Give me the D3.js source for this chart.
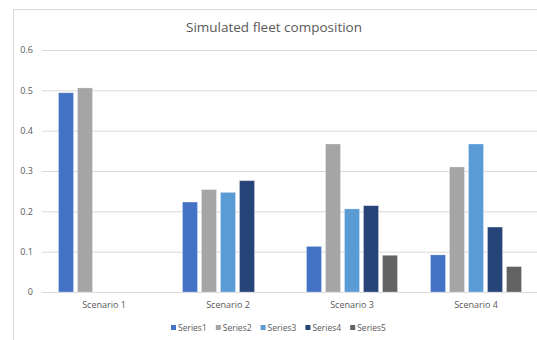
<!DOCTYPE html>
<html>
<head>
<meta charset="utf-8">
<script src="https://cdn.jsdelivr.net/npm/d3@7"></script>
<style>
  html, body { margin: 0; padding: 0; background: #fff; }
  svg { display: block; }
  text { font-family: "Open Sans", "Liberation Sans", sans-serif; fill: #595959; }
</style>
</head>
<body>
<svg id="chart" width="537" height="340"></svg>
<script>
// Fleet share per scenario, one array per series
const categories = ["Scenario 1", "Scenario 2", "Scenario 3", "Scenario 4"];
const seriesNames = ["Series1", "Series2", "Series3", "Series4", "Series5"];
const series1 = [0.494, 0.223, 0.113, 0.092];
const series2 = [0.506, 0.254, 0.367, 0.310];
const series3 = [null, 0.247, 0.206, 0.367];
const series4 = [null, 0.276, 0.214, 0.161];
const series5 = [null, null, 0.091, 0.063];
const yTicks = [0, 0.1, 0.2, 0.3, 0.4, 0.5, 0.6];
const colors = ["#4472C4", "#A5A5A5", "#5B9BD5", "#264478", "#636363"];

const seriesValues = [series1, series2, series3, series4, series5];

const svg = d3.select("#chart");

// chart frame (right and bottom edges run off the canvas)
svg.append("path")
  .attr("d", "M13.5,340 L13.5,9.5 L537,9.5")
  .attr("fill", "none")
  .attr("stroke", "#D9D9D9")
  .attr("stroke-width", 1);

svg.append("text")
  .attr("x", 274)
  .attr("y", 32)
  .attr("text-anchor", "middle")
  .style("font-size", "13.5px")
  .text("Simulated fleet composition");

const plotLeft = 42, plotRight = 538;
const y = d3.scaleLinear().domain([0, 0.6]).range([292, 50]);

const x0 = d3.scaleBand().domain(categories)
  .range([plotLeft, plotRight])
  .paddingInner(0.266).paddingOuter(0.133);
const x1 = d3.scaleBand().domain(seriesNames)
  .range([0, x0.bandwidth()])
  .paddingInner(0.2105).paddingOuter(0);

// gridlines
const yAxis = d3.axisLeft(y).tickValues(yTicks)
  .tickSize(-(plotRight - plotLeft))
  .tickPadding(9)
  .tickFormat(d => d === 0 ? "0" : d3.format(".1f")(d));

const gy = svg.append("g")
  .attr("transform", `translate(${plotLeft},0)`)
  .call(yAxis);
gy.select(".domain").remove();
gy.selectAll(".tick line").attr("stroke", "#D9D9D9").attr("stroke-width", 1);
gy.selectAll(".tick text").style("font-size", "9px").attr("fill", "#595959");

// bars
const groups = svg.append("g").selectAll("g")
  .data(categories)
  .join("g")
  .attr("transform", d => `translate(${x0(d)},0)`);

groups.selectAll("rect")
  .data((c, ci) => seriesNames.map((s, si) => ({ s, si, v: seriesValues[si][ci] }))
    .filter(d => d.v != null))
  .join("rect")
  .attr("x", d => x1(d.s))
  .attr("width", x1.bandwidth())
  .attr("y", d => y(d.v))
  .attr("height", d => y(0) - y(d.v))
  .attr("fill", d => colors[d.si])
  .attr("stroke", "#ffffff")
  .attr("stroke-opacity", 0.35)
  .attr("stroke-width", 0.75);

// category axis
const xAxis = d3.axisBottom(x0).tickSize(0).tickPadding(10);
const gx = svg.append("g")
  .attr("transform", `translate(0,${y(0)})`)
  .call(xAxis);
gx.select(".domain").remove();
gx.selectAll(".tick text").style("font-size", "9px").attr("fill", "#595959");

// legend
const legend = svg.append("g").attr("transform", "translate(171,328)");
const item = legend.selectAll("g")
  .data(seriesNames)
  .join("g")
  .attr("transform", (d, i) => `translate(${i * 44.8},0)`);
item.append("rect")
  .attr("x", 0).attr("y", -3)
  .attr("width", 5).attr("height", 5)
  .attr("fill", (d, i) => colors[i]);
item.append("text")
  .attr("x", 7).attr("y", 2.5)
  .style("font-size", "8.5px")
  .text(d => d);
</script>
</body>
</html>
